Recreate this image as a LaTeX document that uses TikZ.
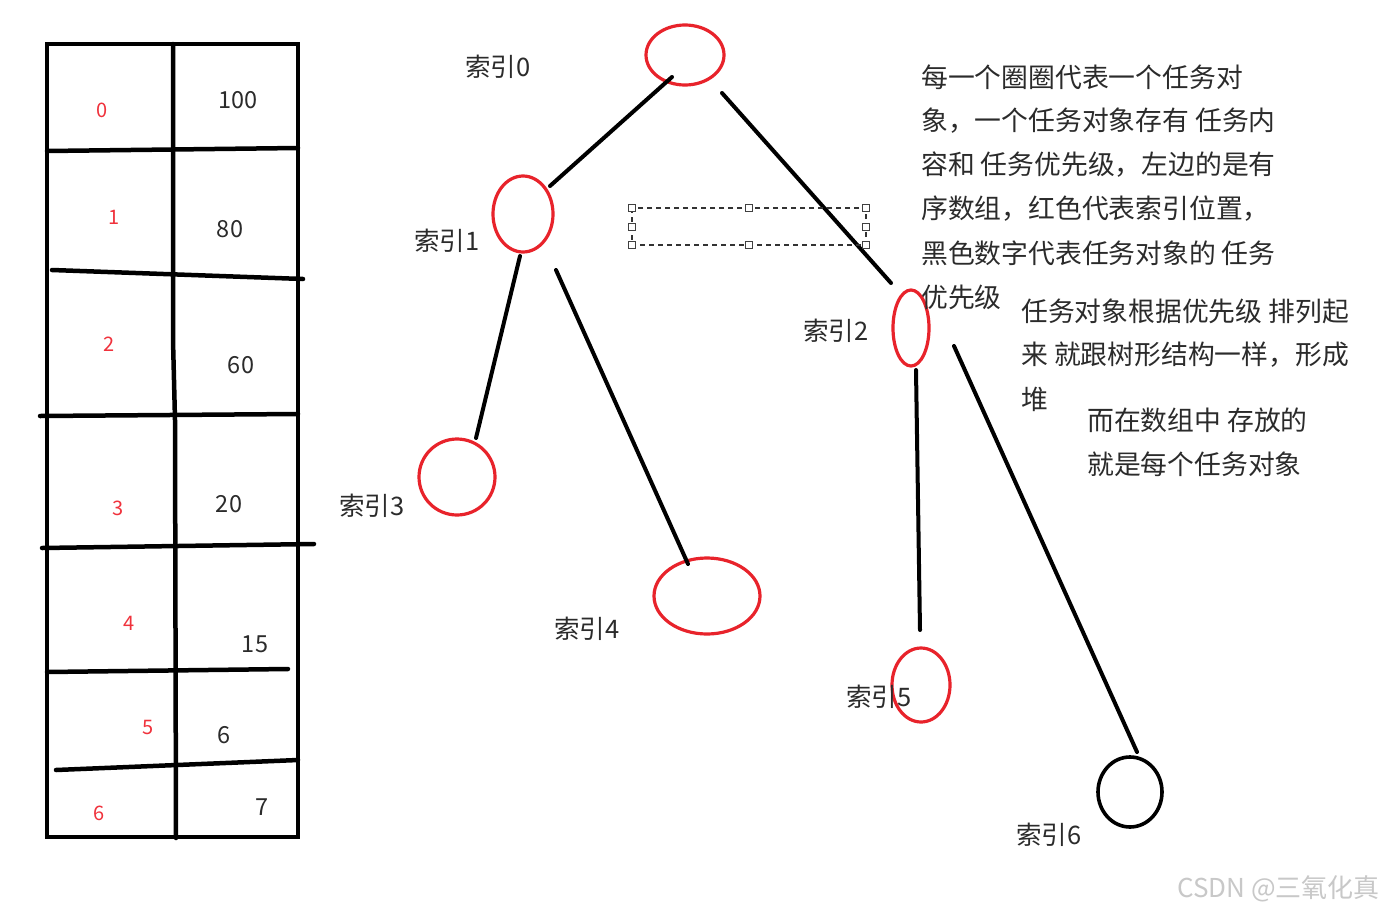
\documentclass[tikz,border=0pt]{standalone}
\usepackage{fontspec}
\setmainfont{Noto Sans CJK SC}
\definecolor{tred}{HTML}{E8232B}
\definecolor{ntred}{HTML}{F0323C}
\definecolor{txt}{HTML}{2B2B2B}
\definecolor{wm}{HTML}{C8C8C8}
\begin{document}
\begin{tikzpicture}[x=1pt,y=-1pt,
  grid/.style={line width=4.5pt,black,line cap=round},
  edge/.style={line width=4pt,black,line cap=round},
  idx/.style={text=ntred,font=\fontsize{20}{20}\selectfont,inner sep=0pt},
  val/.style={text=txt,font=\fontsize{23.5}{23.5}\selectfont,inner sep=0pt},
  lab/.style={text=txt,font=\fontsize{25.5}{25.5}\selectfont,inner sep=0pt},
  note/.style={text=txt,font=\fontsize{26.8}{26.8}\selectfont,inner sep=0pt,anchor=west},
  handle/.style={draw=black!75,fill=white,line width=1pt,minimum size=7pt,inner sep=0pt},
  rring/.style={tred,line width=3.2pt},
]
\useasboundingbox[fill=white] (0,0) rectangle (1384,913);

% ---- table ----
\draw[grid] (47,44) rectangle (298,837);
\draw[grid] (173,44) -- (173,340) -- (175,420) -- (176,838);
\draw[grid] (47,151) -- (298,148);
\draw[grid] (52,270) -- (303,279);
\draw[grid] (40,416) -- (298,414);
\draw[grid] (42,548) -- (314,544);
\draw[grid] (47,672) -- (288,669);
\draw[grid] (56,770) -- (298,760);

\node[idx] (i0) at (102,110) {0};
\node[idx] (i1) at (114,217) {1};
\node[idx] (i2) at (109,344) {2};
\node[idx] (i3) at (118,508) {3};
\node[idx] (i4) at (129,623) {4};
\node[idx] (i5) at (148,727) {5};
\node[idx] (i6) at (99,813) {6};

\node[val] (v0) at (238,100) {100};
\node[val] (v1) at (230,229) {80};
\node[val] (v2) at (241,365) {60};
\node[val] (v3) at (229,504) {20};
\node[val] (v4) at (255,644) {15};
\node[val] (v5) at (224,735) {6};
\node[val] (v6) at (262,807) {7};

% ---- tree nodes ----
\draw[rring] (685,55) ellipse [x radius=39,y radius=30];
\coordinate (n0) at (685,55);
\draw[rring] (523,214) ellipse [x radius=30,y radius=38];
\coordinate (n1) at (523,214);
\draw[rring] (911,328) ellipse [x radius=18,y radius=38];
\coordinate (n2) at (911,328);
\draw[rring] (457,477) ellipse [x radius=38,y radius=38];
\coordinate (n3) at (457,477);
\draw[rring] (707,596) ellipse [x radius=53,y radius=38];
\coordinate (n4) at (707,596);
\draw[rring] (921,685) ellipse [x radius=29,y radius=37];
\coordinate (n5) at (921,685);
\draw[black,line width=3.6pt] (1130,792) ellipse [x radius=32,y radius=35];
\coordinate (n6) at (1130,792);

% connector end points
\coordinate (a0) at (672,77);  \coordinate (a1) at (550,186);
\coordinate (b0) at (722,93);  \coordinate (b1) at (891,283);
\coordinate (c0) at (520,256); \coordinate (c1) at (476,438);
\coordinate (d0) at (556,270); \coordinate (d1) at (688,564);
\coordinate (e0) at (916,370); \coordinate (e1) at (920,630);
\coordinate (f0) at (954,346); \coordinate (f1) at (1137,752);
\draw[edge] (a0) -- (a1);
\draw[edge] (b0) -- (b1);
\draw[edge] (c0) -- (c1);
\draw[edge] (d0) -- (d1);
\draw[edge] (e0) -- (e1);
\draw[edge] (f0) -- (f1);

% labels
\node[lab] (l0) at (498,67) {索引0};
\node[lab] (l1) at (447,241) {索引1};
\node[lab] (l2) at (836,331) {索引2};
\node[lab] (l3) at (372,506) {索引3};
\node[lab] (l4) at (587,629) {索引4};
\node[lab] (l5) at (879,697) {索引5};
\node[lab] (l6) at (1049,835) {索引6};

% dashed selection box
\draw[black!80,line width=1.2pt,dash pattern=on 5pt off 4pt] (632,208) rectangle (866,245);
\node[handle] (h1) at (632,208) {};
\node[handle] (h2) at (749,208) {};
\node[handle] (h3) at (866,208) {};
\node[handle] (h4) at (632,227) {};
\node[handle] (h5) at (866,227) {};
\node[handle] (h6) at (632,245) {};
\node[handle] (h7) at (749,245) {};
\node[handle] (h8) at (866,245) {};

% notes
\node[note] (t1) at (921,77) {每一个圈圈代表一个任务对};
\node[note] (t2) at (921,121) {象，一个任务对象存有 任务内};
\node[note] (t3) at (921,165) {容和 任务优先级，左边的是有};
\node[note] (t4) at (921,209) {序数组，红色代表索引位置，};
\node[note] (t5) at (921,253) {黑色数字代表任务对象的 任务};
\node[note] (t6) at (921,297) {优先级};

\node[note] (s1) at (1021,311) {任务对象根据优先级 排列起};
\node[note] (s2) at (1021,355) {来 就跟树形结构一样，形成};
\node[note] (s3) at (1021,399) {堆};

\node[note] (u1) at (1087,420) {而在数组中 存放的};
\node[note] (u2) at (1087,464) {就是每个任务对象};

\node[text=wm,font=\fontsize{26}{26}\selectfont,inner sep=0pt,anchor=east] (wmk) at (1380,889) {CSDN @三氧化真};
\end{tikzpicture}
\end{document}
